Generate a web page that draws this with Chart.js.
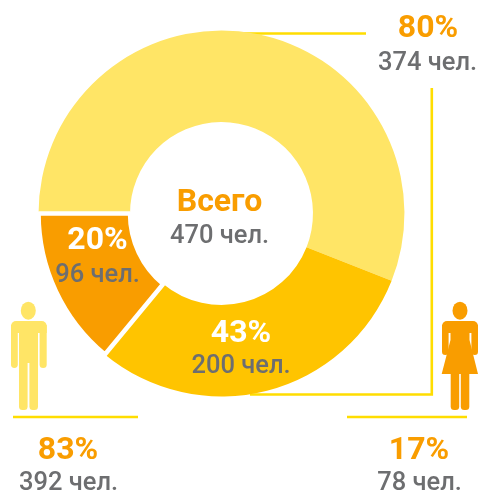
<!DOCTYPE html>
<html lang="ru">
<head>
<meta charset="utf-8">
<script src="https://cdn.jsdelivr.net/npm/chart.js@4/dist/chart.umd.min.js"></script>
<style>html,body{margin:0;padding:0;background:#fff}canvas{display:block}</style>
</head>
<body>
<canvas id="c" width="479" height="492"></canvas>
<script>
const categories = ['Группа 1', 'Группа 2', 'Группа 3'];
const sliceShares = [56.0, 30.0, 14.0];
const sliceColors = ['#FFE566', '#FFC400', '#F99D00'];
const sliceBorders = [0, 0, 4.5];

const ORANGE = '#F99D00', GREY = '#6D6E70', WHITE = '#FFFFFF', LINE = '#FFDD00';
const labels = [
  ['80%', 428, 37, 'big', ORANGE], ['374 чел.', 427.5, 70, 'small', GREY],
  ['Всего', 219.5, 211, 'big', ORANGE], ['470 чел.', 219.5, 243, 'small', GREY],
  ['20%', 97.5, 249, 'big', WHITE], ['96 чел.', 97.5, 282, 'small', GREY],
  ['43%', 241, 342, 'big', WHITE], ['200 чел.', 241, 373, 'small', GREY],
  ['83%', 68, 459, 'big', ORANGE], ['392 чел.', 68.5, 490, 'small', GREY],
  ['17%', 419, 459, 'big', ORANGE], ['78 чел.', 419.5, 490, 'small', GREY]
];
const FONT = { big: '700 32px Roboto', small: '500 25.5px Roboto' };

function man(ctx) {
  ctx.fillStyle = '#FFE566';
  ctx.beginPath(); ctx.ellipse(28.3, 310.7, 7.5, 9, 0, 0, Math.PI * 2); ctx.fill();
  ctx.beginPath();
  ctx.roundRect(11, 321, 35.7, 12, [5, 5, 0, 0]); ctx.fill();
  ctx.beginPath(); ctx.roundRect(11, 325, 6.8, 43, [0, 0, 3.4, 3.4]); ctx.fill();
  ctx.beginPath(); ctx.roundRect(39.6, 325, 7.1, 43, [0, 0, 3.5, 3.5]); ctx.fill();
  ctx.fillRect(19, 325, 19, 38);
  ctx.beginPath(); ctx.roundRect(19, 360, 8.6, 50, [0, 0, 3.5, 3.5]); ctx.fill();
  ctx.beginPath(); ctx.roundRect(29.4, 360, 8.6, 50, [0, 0, 3.5, 3.5]); ctx.fill();
}
function woman(ctx) {
  ctx.fillStyle = ORANGE;
  ctx.beginPath(); ctx.ellipse(460, 310.7, 7.5, 9, 0, 0, Math.PI * 2); ctx.fill();
  ctx.beginPath(); ctx.roundRect(442, 321, 36, 12, [5, 5, 0, 0]); ctx.fill();
  ctx.beginPath(); ctx.roundRect(442, 325, 6.6, 30, [0, 0, 3.3, 3.3]); ctx.fill();
  ctx.beginPath(); ctx.roundRect(471.4, 325, 6.6, 30, [0, 0, 3.3, 3.3]); ctx.fill();
  ctx.beginPath();
  ctx.moveTo(450.5, 325); ctx.lineTo(469.5, 325); ctx.lineTo(469.5, 340);
  ctx.lineTo(478, 374); ctx.lineTo(441.7, 374); ctx.lineTo(450.5, 340);
  ctx.closePath(); ctx.fill();
  ctx.beginPath(); ctx.roundRect(450.7, 372, 8.5, 38, [0, 0, 3.5, 3.5]); ctx.fill();
  ctx.beginPath(); ctx.roundRect(460.8, 372, 8.5, 38, [0, 0, 3.5, 3.5]); ctx.fill();
}
function seg(ctx, pts) {
  ctx.beginPath();
  pts.forEach((p, i) => i ? ctx.lineTo(p[0], p[1]) : ctx.moveTo(p[0], p[1]));
  ctx.stroke();
}
const backdrop = {
  id: 'backdrop',
  beforeDatasetsDraw(chart) {
    const ctx = chart.ctx;
    ctx.save();
    ctx.strokeStyle = LINE; ctx.lineWidth = 2.6; ctx.lineJoin = 'miter';
    seg(ctx, [[240, 33.5], [366, 33.5]]);
    seg(ctx, [[250, 394.5], [431.8, 394.5], [431.8, 88]]);
    seg(ctx, [[13, 417], [138, 417]]);
    seg(ctx, [[347, 417], [467, 417]]);
    man(ctx); woman(ctx);
    ctx.restore();
  }
};
const texts = {
  id: 'texts',
  afterDatasetsDraw(chart) {
    const ctx = chart.ctx;
    ctx.save();
    ctx.textAlign = 'center'; ctx.textBaseline = 'alphabetic';
    labels.forEach(([t, x, y, size, color]) => {
      ctx.font = FONT[size]; ctx.fillStyle = color; ctx.fillText(t, x, y);
    });
    ctx.restore();
  }
};
new Chart(document.getElementById('c'), {
  type: 'doughnut',
  data: {
    labels: categories,
    datasets: [{
      data: sliceShares, backgroundColor: sliceColors,
      borderColor: '#FFFFFF', borderWidth: sliceBorders, hoverOffset: 0
    }]
  },
  options: {
    responsive: false, animation: false, rotation: -90, cutout: '50%',
    layout: { padding: { left: 36.3, top: 28.3, right: 72.3, bottom: 93.3 } },
    plugins: { legend: { display: false }, tooltip: { enabled: false }, title: { display: false } }
  },
  plugins: [backdrop, texts]
});
</script>
</body>
</html>
